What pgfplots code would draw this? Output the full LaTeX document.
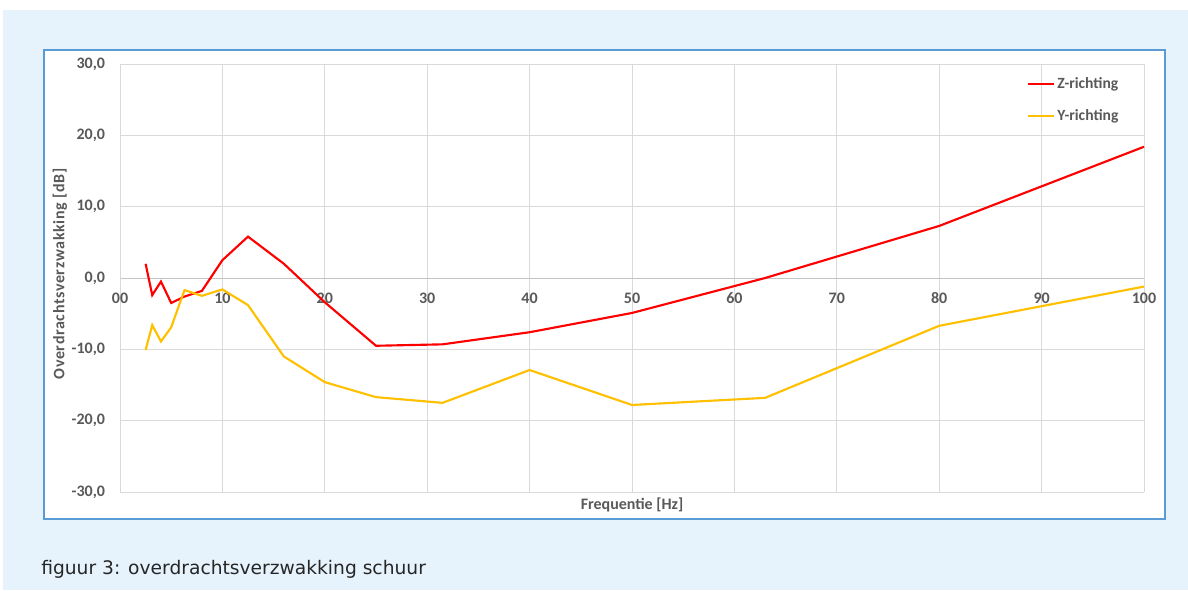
\documentclass[border=0pt]{standalone}
\usepackage{fontspec}
\setmainfont{Carlito}
\newfontfamily\capfont{DejaVu Sans}
\usepackage{pgfplots}
\pgfplotsset{compat=1.18}
\definecolor{bgblue}{RGB}{230,243,253}
\definecolor{frameblue}{RGB}{91,155,213}
\definecolor{gridgray}{RGB}{217,217,217}
\definecolor{axgray}{RGB}{196,196,196}
\definecolor{txtgray}{RGB}{89,89,89}
\definecolor{zred}{RGB}{255,0,0}
\definecolor{yyel}{RGB}{255,192,0}
\begin{document}
\begin{tikzpicture}[x=0.75pt,y=0.75pt]
\path[use as bounding box] (0,0) rectangle (1188,590);
\fill[white] (0,0) rectangle (1188,590);
\fill[bgblue] (3,0) rectangle (1188,580);
\draw[frameblue, line width=1.1pt, fill=white] (44,71) rectangle (1165,540);
\begin{axis}[
  at={(90pt,73.5pt)}, anchor=south west, scale only axis,
  width=768pt, height=321pt,
  xmin=0, xmax=100, ymin=-30, ymax=30,
  axis x line*=middle, axis y line*=left,
  hide obscured x ticks=false, hide obscured y ticks=false,
  x axis line style={draw=axgray, line width=0.75pt, -},
  y axis line style={draw=gridgray, line width=0.75pt, -},
  xtick={0,10,...,100},
  xticklabels={\mbox{00},\mbox{10},\mbox{20},\mbox{30},\mbox{40},\mbox{50},\mbox{60},\mbox{70},\mbox{80},\mbox{90},\mbox{100}},
  ytick={-30,-20,...,30},
  yticklabels={\mbox{-30,0},\mbox{-20,0},\mbox{-10,0},\mbox{0,0},\mbox{10,0},\mbox{20,0},\mbox{30,0}},
  major tick length=0pt,
  grid=major, major grid style={draw=gridgray, line width=0.75pt},
  tick label style={font=\bfseries\fontsize{12}{14}\selectfont, text=txtgray},
  xticklabel style={inner sep=0pt, anchor=north, yshift=-11pt},
  yticklabel style={inner sep=0pt, anchor=east, xshift=-11pt},
  legend style={at={(0.885,0.975)}, anchor=north west, draw=none, fill=none,
    font=\bfseries\fontsize{11.7}{13.5}\selectfont, text=txtgray, row sep=10.5pt,
    inner sep=0pt, cells={anchor=west}},
  legend image code/.code={\draw[#1] (0pt,0pt) -- (19.5pt,0pt);},
  clip=false,
]
\addplot[zred, line width=1.6pt] coordinates {
(2.5,2.0) (3.15,-2.4) (4,-0.5) (5,-3.5) (6.3,-2.6) (8,-1.8) (10,2.5) (12.5,5.8)
(16,2.0) (20,-3.4) (25,-9.5) (31.5,-9.3) (40,-7.6) (50,-4.9) (63,0.0) (80,7.3) (100,18.4)};
\addlegendentry{Z-richting}
\addplot[yyel, line width=1.6pt] coordinates {
(2.5,-10.1) (3.15,-6.6) (4,-8.9) (5,-6.9) (6.3,-1.7) (8,-2.5) (10,-1.6) (12.5,-3.8)
(16,-11.0) (20,-14.6) (25,-16.7) (31.5,-17.5) (40,-12.9) (50,-17.8) (63,-16.8) (80,-6.7) (100,-1.2)};
\addlegendentry{Y-richting}
\node[font=\bfseries\fontsize{12}{14}\selectfont, text=txtgray, inner sep=0pt] at (rel axis cs:0.5,0) [yshift=-9.5pt] {Frequentie [Hz]};
\end{axis}
\node[rotate=90, font=\bfseries\fontsize{12}{14}\selectfont\addfontfeatures{LetterSpace=4}, text=txtgray, inner sep=0pt] at (60,316) {Overdrachtsverzwakking [dB]};
\node[anchor=west, font=\capfont\fontsize{14}{16}\selectfont, text=black!85, inner sep=0pt] at (41,21) {figuur 3: overdrachtsverzwakking schuur};
\end{tikzpicture}
\end{document}
